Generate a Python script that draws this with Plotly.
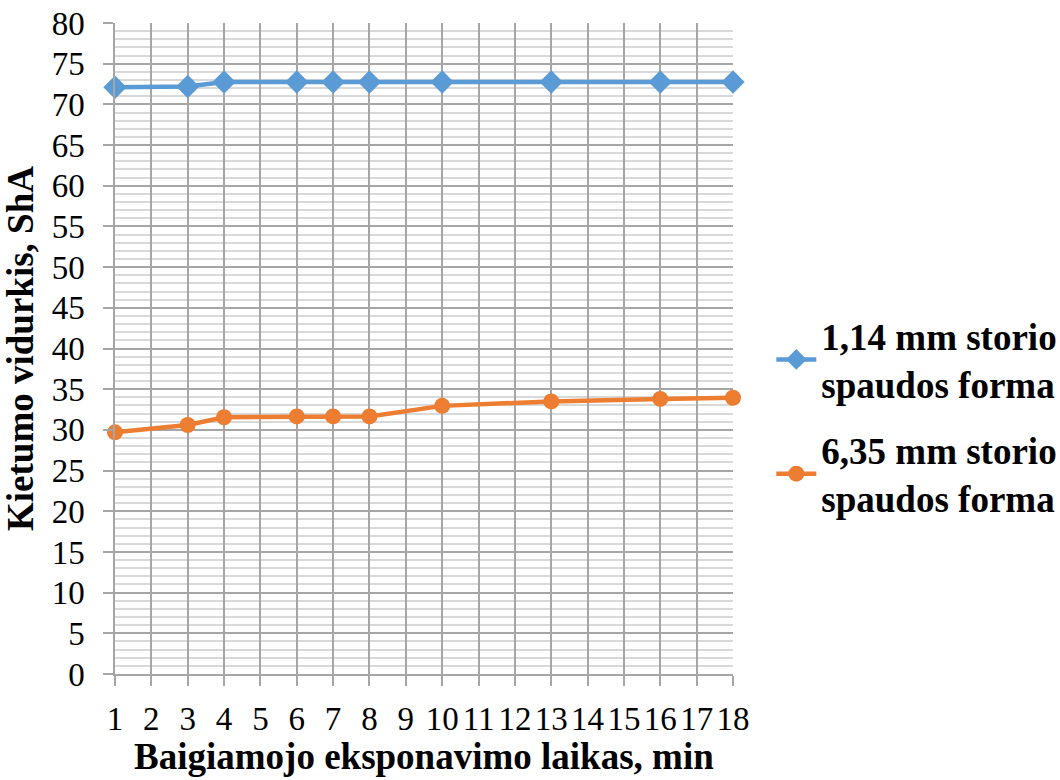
import plotly.graph_objects as go

x_min = [1, 3, 4, 6, 7, 8, 10, 13, 16, 18]
y_114 = [72.1, 72.2, 72.75, 72.75, 72.75, 72.75, 72.75, 72.75, 72.75, 72.75]
y_635 = [29.7, 30.6, 31.55, 31.65, 31.65, 31.65, 32.95, 33.5, 33.8, 33.95]
series_names = ["1,14 mm storio<br>spaudos forma", "6,35 mm storio<br>spaudos forma"]
x_title = "Baigiamojo eksponavimo laikas, min"
y_title = "Kietumo vidurkis, ShA"

BLUE = "#5B9BD5"
ORANGE = "#ED7D31"
FONT = "'Liberation Serif', 'Times New Roman', serif"

fig = go.Figure()
fig.add_trace(go.Scatter(
    x=x_min, y=y_114, mode="lines+markers", name=series_names[0],
    legendgroup="g1",
    line=dict(color=BLUE, width=4.5),
    marker=dict(symbol="diamond", size=18, color=BLUE),
    cliponaxis=False,
))
fig.add_trace(go.Scatter(
    x=x_min, y=y_635, mode="lines+markers", name=series_names[1],
    legendgroup="g2",
    line=dict(color=ORANGE, width=4.5),
    marker=dict(symbol="circle", size=16, color=ORANGE),
    cliponaxis=False,
))

fig.update_layout(
    width=1060, height=780,
    margin=dict(l=115, r=327, t=23, b=106, autoexpand=False),
    paper_bgcolor="white", plot_bgcolor="white",
    font=dict(family=FONT, color="black", size=32),
    showlegend=True,
    legend=dict(
        x=1.062, xanchor="left", y=0.395, yanchor="middle",
        font=dict(family=FONT, size=37, weight="bold", color="black"),
        tracegroupgap=15, itemwidth=40,
        bgcolor="rgba(0,0,0,0)",
    ),
)

fig.add_annotation(
    text=x_title, xref="paper", yref="paper", x=0.5, y=-0.127,
    xanchor="center", yanchor="middle", showarrow=False,
    font=dict(family=FONT, size=37, weight="bold", color="black"),
)

fig.update_xaxes(
    range=[1, 18], dtick=1, tick0=1,
    showgrid=True, gridcolor="#A6A6A6", gridwidth=1.5,
    showline=True, linecolor="#A6A6A6", linewidth=1.5,
    ticks="outside", ticklen=10, tickcolor="#A6A6A6", tickwidth=1.5,
    tickfont=dict(family=FONT, size=33),
    ticklabelstandoff=5,
    zeroline=False, automargin=False,
)
fig.update_yaxes(
    range=[0, 80], dtick=5, tick0=0,
    showgrid=True, gridcolor="#A6A6A6", gridwidth=1.5,
    minor=dict(dtick=1, showgrid=True, gridcolor="#D9D9D9", gridwidth=1.5),
    showline=True, linecolor="#A6A6A6", linewidth=1.5,
    ticks="outside", ticklen=10, tickcolor="#A6A6A6", tickwidth=1.5,
    tickfont=dict(family=FONT, size=33),
    ticklabelstandoff=12,
    zeroline=False, automargin=False,
    title=dict(text=y_title, font=dict(family=FONT, size=37, weight="bold"), standoff=12),
)

fig.write_html("out.html")
